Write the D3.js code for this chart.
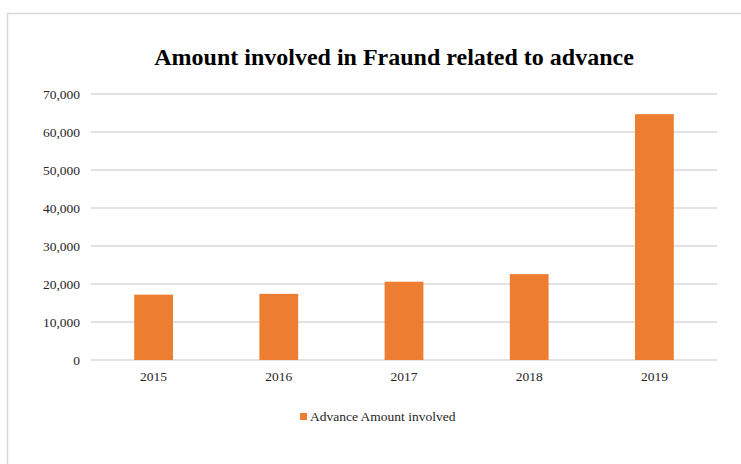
<!DOCTYPE html>
<meta charset="utf-8">
<head>
<style>
  body { margin: 0; background: #fff; }
  text { font-family: "Liberation Serif", "Times New Roman", serif; fill: #262626; }
</style>
</head>
<body>
<script src="https://d3js.org/d3.v7.min.js"></script>
<script>
// chart data
var years = ["2015", "2016", "2017", "2018", "2019"];
var amounts = [17200, 17400, 20600, 22600, 64700];
var yTicks = [0, 10000, 20000, 30000, 40000, 50000, 60000, 70000];
var seriesName = "Advance Amount involved";
var title = "Amount involved in Fraund related to advance";

var W = 741, H = 464;
var margin = { top: 94, right: 24, bottom: 104, left: 91 },
    width = W - margin.left - margin.right,
    height = H - margin.top - margin.bottom;

var svg = d3.select("body").append("svg")
    .attr("width", W)
    .attr("height", H);

// outer chart frame
svg.append("rect")
    .attr("x", 7.5).attr("y", 13.5)
    .attr("width", 760).attr("height", 480)
    .attr("fill", "none")
    .attr("stroke", "#d9d9d9")
    .attr("stroke-width", 1.5);

svg.append("text")
    .attr("x", 394)
    .attr("y", 65)
    .attr("text-anchor", "middle")
    .style("font-size", "24px")
    .style("font-weight", "bold")
    .style("fill", "#000")
    .text(title);

var g = svg.append("g")
    .attr("transform", "translate(" + margin.left + "," + margin.top + ")");

var x = d3.scaleBand().domain(years).range([0, width]).paddingInner(0.69).paddingOuter(0.345);
var y = d3.scaleLinear().domain([0, 70000]).range([height, 0]);

// gridlines
g.selectAll(".grid")
    .data(yTicks)
    .enter().append("line")
    .attr("x1", 0).attr("x2", width)
    .attr("y1", function(d) { return y(d); })
    .attr("y2", function(d) { return y(d); })
    .attr("stroke", "#d9d9d9")
    .attr("stroke-width", 1.5);

var yAxis = g.append("g")
    .call(d3.axisLeft(y).tickValues(yTicks).tickFormat(d3.format(",")).tickSize(0).tickPadding(11));
yAxis.select(".domain").remove();
yAxis.selectAll("text").style("font-size", "13.5px").style("font-family", "Liberation Serif").attr("fill", "#262626");

g.selectAll(".bar")
    .data(amounts)
    .enter().append("rect")
    .attr("x", function(d, i) { return x(years[i]); })
    .attr("width", x.bandwidth())
    .attr("y", function(d) { return y(d); })
    .attr("height", function(d) { return height - y(d); })
    .attr("fill", "#ed7d31");

var xAxis = g.append("g")
    .attr("transform", "translate(0," + height + ")")
    .call(d3.axisBottom(x).tickSize(0).tickPadding(11));
xAxis.select(".domain").remove();
xAxis.selectAll("text").style("font-size", "13.5px").style("font-family", "Liberation Serif").attr("fill", "#262626");

// legend
var legend = svg.append("g").attr("transform", "translate(300,413)");
legend.append("rect")
    .attr("width", 7).attr("height", 7)
    .attr("fill", "#ed7d31");
legend.append("text")
    .attr("x", 10).attr("y", 8)
    .style("font-size", "13.5px")
    .text(seriesName);
</script>
</body>
